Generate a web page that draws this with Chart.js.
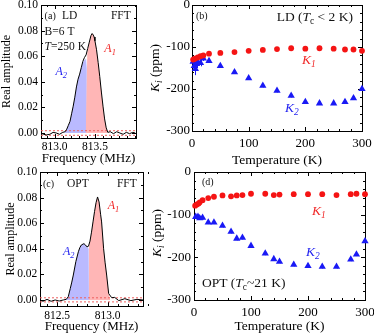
<!DOCTYPE html>
<html><head><meta charset="utf-8">
<script src="https://cdn.jsdelivr.net/npm/chart.js@4"></script>
<style>
html,body{margin:0;padding:0;background:#fff}
#wrap{position:relative;width:374px;height:333px;background:#fff}
#wrap canvas{position:absolute;left:0;top:0}
</style>
</head><body>
<div id="wrap">
<canvas id="ca" width="374" height="333"></canvas>
<canvas id="cb" width="374" height="333"></canvas>
<canvas id="cc" width="374" height="333"></canvas>
<canvas id="cd" width="374" height="333"></canvas>
</div>
<script>
// ---------- data: panel (a) LD spectrum ----------
const specFreqA = [812.83,812.86,812.90,812.94,812.98,813.02,813.06,813.10,813.13,813.15,813.17,813.19,813.21,813.23,813.25,813.27,813.29,813.31,813.33,813.35,813.37,813.39,813.41,813.43,813.45,813.465,813.48,813.49,813.50,813.52,813.54,813.56,813.58,813.60,813.62,813.64,813.66,813.69,813.73,813.77,813.81,813.85,813.89,813.93,813.97,814.0];
const specAmpA  = [0,-0.001,-0.0015,-0.001,0.0005,0,-0.001,0.0005,0.001,0.003,0.006,0.009,0.015,0.021,0.028,0.036,0.042,0.046,0.051,0.056,0.059,0.061,0.066,0.071,0.076,0.0777,0.0765,0.075,0.072,0.065,0.055,0.044,0.032,0.021,0.011,0.004,0.0005,0.001,-0.0005,0.001,0,-0.001,0.0005,-0.0005,0.0005,0];
const fitFreqA2a = [813.12,813.15,813.17,813.19,813.21,813.23,813.25,813.27,813.29,813.31,813.33,813.35,813.37,813.39,813.40,813.40];
const fitAmpA2a  = [0,0.003,0.006,0.009,0.015,0.021,0.028,0.036,0.042,0.046,0.051,0.055,0.057,0.058,0.050,0];
const fitFreqA1a = [813.385,813.395,813.405,813.43,813.45,813.465,813.48,813.49,813.50,813.52,813.54,813.56,813.58,813.60,813.62,813.64,813.66];
const fitAmpA1a  = [0,0.03,0.063,0.071,0.076,0.0777,0.0765,0.075,0.072,0.065,0.055,0.044,0.032,0.021,0.011,0.004,0];
const noiseLevelA = [0.0018,-0.0018];

// ---------- data: panel (c) OPT spectrum ----------
const specFreqC = [812.33,812.36,812.40,812.44,812.48,812.52,812.56,812.59,812.61,812.63,812.645,812.66,812.685,812.71,812.725,812.74,812.765,812.78,812.795,812.81,812.825,812.84,812.855,812.87,812.885,812.90,812.915,812.93,812.94,812.96,812.975,812.99,813.01,813.04,813.07,813.11,813.17,813.23,813.29,813.35];
const specAmpC  = [0,-0.001,0.0005,-0.001,0,-0.0008,0,0.0005,0.0026,0.009,0.014,0.0195,0.030,0.0377,0.041,0.043,0.044,0.043,0.0415,0.042,0.046,0.053,0.061,0.069,0.076,0.0805,0.0766,0.067,0.061,0.040,0.029,0.0195,0.005,0.0018,0.002,-0.0005,0.001,-0.0005,0.0005,0];
const fitFreqC2 = [812.585,812.61,812.63,812.645,812.66,812.685,812.71,812.725,812.74,812.765,812.78,812.795,812.812,812.815];
const fitAmpC2  = [0,0.0026,0.009,0.014,0.0195,0.030,0.0377,0.041,0.043,0.044,0.043,0.0415,0.040,0];
const fitFreqC1 = [812.812,812.815,812.825,812.84,812.855,812.87,812.885,812.90,812.915,812.93,812.94,812.96,812.975,812.99,813.01,813.025];
const fitAmpC1  = [0,0.042,0.046,0.053,0.061,0.069,0.076,0.0805,0.0766,0.067,0.061,0.040,0.029,0.0195,0.005,0];
const noiseLevelC = [0.0017,-0.0015];

// ---------- data: panel (b) LD Knight shift ----------
const tempK1LD  = [2,5,10,15,20,30,50,75,100,125,150,175,200,225,250,270,285,300];
const shiftK1LD = [-130,-128,-125,-122,-120,-116,-114,-112,-109,-107,-105,-103,-104,-103,-104,-106,-106,-109];
const tempK2LD  = [2,4,6,8,10,15,20,30,50,75,100,125,150,175,200,225,250,270,285,300];
const shiftK2LD = [-135,-145,-152,-140,-136,-138,-127,-133,-145,-160,-174,-192,-204,-216,-231,-234,-234,-231,-222,-200];
const errK2LD   = [10,12,15,10,8,8,6,5,5,4,4,4,4,4,4,4,4,4,4,4];

// ---------- data: panel (d) OPT Knight shift ----------
const tempK1OPT  = [2,5,8,10,15,25,35,50,65,75,85,100,125,140,150,175,200,225,250,275,285,300];
const shiftK1OPT = [-79,-76,-74,-71,-66,-61,-58,-55,-57,-55,-54,-51,-51,-54,-53,-52,-52,-52,-54,-52,-51,-52];
const tempK2OPT  = [3,7,10,15,25,35,50,65,75,85,100,125,140,150,175,200,225,250,275,285,300];
const shiftK2OPT = [-105,-105,-108,-107,-118,-118,-126,-140,-156,-154,-173,-191,-204,-210,-217,-220,-222,-222,-205,-193,-162];
const errK2OPT   = [4,4,4,4,4,4,4,4,4,4,4,4,4,4,4,4,4,4,4,4,4];

// ---------- tick labels ----------
const freqTicksA = [813.0, 813.5];
const freqTicksC = [812.5, 813.0];
const ampTicks   = [0, 0.02, 0.04, 0.06, 0.08, 0.10];
const tempTicks  = [0, 100, 200, 300];
const shiftTicks = [-300, -200, -100, 0];

// ---------- helpers ----------
const SERIF = '"Liberation Serif", "Times New Roman", serif';
const RED = '#f02828', BLUE = '#2323f0', TXT = '#111';
const xy = (xs, ys) => xs.map((x, i) => ({x, y: ys[i]}));

function drawRich(ctx, x, y, parts, size, align, color) {
  let w = 0;
  const m = parts.map(p => {
    const sz = p.s ? size * 0.7 : size;
    const f = (p.i ? 'italic ' : '') + sz + 'px ' + SERIF;
    ctx.font = f;
    const pw = ctx.measureText(p.t).width;
    w += pw;
    return {f, pw, dy: p.s ? size * 0.3 : 0};
  });
  let cx = align === 'right' ? x - w : (align === 'center' ? x - w / 2 : x);
  ctx.fillStyle = color;
  ctx.textAlign = 'left';
  ctx.textBaseline = 'middle';
  parts.forEach((p, k) => { ctx.font = m[k].f; ctx.fillText(p.t, cx, y + m[k].dy); cx += m[k].pw; });
}

const framePlugin = {
  id: 'frame',
  beforeDatasetsDraw(chart, args, o) {
    const {ctx, chartArea: a, scales: {x, y}} = chart;
    ctx.save();
    ctx.strokeStyle = '#000';
    ctx.lineWidth = 1;
    const tx = (v, len) => {
      const p = Math.round(x.getPixelForValue(v)) + 0.5;
      ctx.beginPath();
      ctx.moveTo(p, a.bottom); ctx.lineTo(p, a.bottom - len);
      ctx.moveTo(p, a.top); ctx.lineTo(p, a.top + len);
      ctx.stroke();
    };
    const ty = (v, len) => {
      const p = Math.round(y.getPixelForValue(v)) + 0.5;
      ctx.beginPath();
      ctx.moveTo(a.left, p); ctx.lineTo(a.left + len, p);
      ctx.moveTo(a.right, p); ctx.lineTo(a.right - len, p);
      ctx.stroke();
    };
    const nx = Math.round((x.max - o.xMinorStart) / o.xMinor);
    for (let k = 0; k <= nx; k++) tx(o.xMinorStart + k * o.xMinor, 2);
    const ny = Math.round((y.max - o.yMinorStart) / o.yMinor);
    for (let k = 0; k <= ny; k++) ty(o.yMinorStart + k * o.yMinor, 2);
    x.ticks.forEach(t => tx(t.value, 4));
    y.ticks.forEach(t => ty(t.value, 4));
    ctx.strokeRect(Math.round(a.left) + 0.5, Math.round(a.top) + 0.5, Math.round(a.right - a.left), Math.round(a.bottom - a.top));
    ctx.restore();
  }
};

const errPlugin = {
  id: 'errbars',
  beforeDatasetsDraw(chart) {
    const {ctx, scales: {y}} = chart;
    chart.data.datasets.forEach((ds, i) => {
      if (!ds.yErr) return;
      const meta = chart.getDatasetMeta(i);
      ctx.save();
      ctx.strokeStyle = ds.borderColor;
      ctx.lineWidth = 1;
      meta.data.forEach((el, k) => {
        const v = ds.data[k].y, e = ds.yErr[k];
        const px = Math.round(el.x) + 0.5;
        ctx.beginPath();
        ctx.moveTo(px, y.getPixelForValue(v + e));
        ctx.lineTo(px, y.getPixelForValue(v - e));
        ctx.stroke();
      });
      ctx.restore();
    });
  }
};

const notesPlugin = {
  id: 'notes',
  afterDatasetsDraw(chart, args, o) {
    const {ctx, chartArea: a, scales: {x, y}} = chart;
    ctx.save();
    (o.items || []).forEach(n => {
      drawRich(ctx, x.getPixelForValue(n.x), y.getPixelForValue(n.y), n.parts, n.size, n.align || 'left', n.color || TXT);
    });
    if (o.yTitle) {
      ctx.save();
      ctx.translate(a.left + o.yTitle.dx, (a.top + a.bottom) / 2 + (o.yTitle.dy || 0));
      ctx.rotate(-Math.PI / 2);
      drawRich(ctx, 0, 0, o.yTitle.parts, o.yTitle.size, 'center', '#000');
      ctx.restore();
    }
    ctx.restore();
  }
};

function build(id, c) {
  const zero = s => { s.paddingLeft = 0; s.paddingRight = 0; s.paddingTop = 0; s.paddingBottom = 0; };
  const el = document.getElementById(id);
  return new Chart(el, {
    type: 'scatter',
    data: {datasets: c.datasets},
    options: {
      responsive: false, animation: false, devicePixelRatio: 1,
      layout: {padding: {left: c.area.l - c.wy, top: c.area.t, right: 374 - c.area.r, bottom: 333 - c.area.b - c.hx}},
      plugins: {
        legend: {display: false}, tooltip: {enabled: false},
        frame: c.frame,
        notes: {items: c.notes, yTitle: c.yTitleRich}
      },
      scales: {
        x: {
          type: 'linear', position: 'bottom', min: c.x.min, max: c.x.max,
          afterBuildTicks: s => { s.ticks = c.x.ticks.map(v => ({value: v})); },
          afterFit: s => { s.height = c.hx; zero(s); },
          grid: {display: false, drawTicks: false}, border: {display: false},
          ticks: {autoSkip: false, maxRotation: 0, padding: c.x.pad, color: '#000',
                  font: {family: SERIF, size: c.x.size, lineHeight: 1}, callback: v => c.x.fmt(v)},
          title: {display: true, text: c.x.title, color: '#000',
                  font: {family: SERIF, size: c.x.tsize, lineHeight: 1}, padding: {top: 0, bottom: 0}}
        },
        y: {
          type: 'linear', position: 'left', min: c.y.min, max: c.y.max,
          afterBuildTicks: s => { s.ticks = c.y.ticks.map(v => ({value: v})); },
          afterFit: s => { s.width = c.wy; zero(s); },
          grid: {display: false, drawTicks: false}, border: {display: false},
          ticks: {autoSkip: false, padding: c.y.pad, color: '#000',
                  font: {family: SERIF, size: c.y.size, lineHeight: 1}, callback: v => c.y.fmt(v)},
          title: c.y.title ? {display: true, text: c.y.title, color: '#000',
                  font: {family: SERIF, size: c.y.tsize, lineHeight: 1}, padding: {top: c.y.tpad, bottom: 0}}
                : {display: false}
        }
      }
    },
    plugins: [framePlugin, errPlugin, notesPlugin]
  });
}

function spectrumSets(fx, fy, f2x, f2y, f1x, f1y, noise, xmin, xmax) {
  const line = (data, extra) => Object.assign({type: 'line', data, pointRadius: 0, tension: 0, showLine: true}, extra);
  return [
    line(xy(fx, fy), {borderColor: '#000', borderWidth: 1, fill: false, order: 0}),
    line([{x: xmin, y: noise[0]}, {x: xmax, y: noise[0]}], {borderColor: 'rgba(238,95,95,1)', borderWidth: 1, borderDash: [2, 2], fill: false, order: 1}),
    line([{x: xmin, y: noise[1]}, {x: xmax, y: noise[1]}], {borderColor: 'rgba(238,95,95,1)', borderWidth: 1, borderDash: [2, 2], fill: false, order: 1}),
    line(xy(f1x, f1y), {borderWidth: 0, borderColor: 'rgba(0,0,0,0)', backgroundColor: 'rgb(255,182,182)', fill: 'origin', order: 2}),
    line(xy(f2x, f2y), {borderWidth: 0, borderColor: 'rgba(0,0,0,0)', backgroundColor: 'rgb(186,186,255)', fill: 'origin', order: 3})
  ];
}

function shiftSets(t1, k1, t2, k2, e2) {
  return [
    {data: xy(t1, k1), pointStyle: 'circle', pointRadius: 2.9, backgroundColor: 'rgb(245,20,20)', borderColor: 'rgb(245,20,20)', borderWidth: 0, clip: false, order: 0},
    {data: xy(t2, k2), yErr: e2, pointStyle: 'triangle', pointRadius: 4.2, backgroundColor: 'rgb(25,25,245)', borderColor: 'rgb(25,25,245)', borderWidth: 0, clip: false, order: 1}
  ];
}

const sub = (base, s, italic) => [{t: base, i: italic}, {t: s, i: italic, s: 1}];

// ---------- panel (a) ----------
build('ca', {
  area: {l: 41, t: 5, r: 136, b: 138}, wy: 41, hx: 27,
  x: {min: 812.83, max: 814.01, ticks: freqTicksA, fmt: v => v.toFixed(1), pad: 3.5, size: 11.5, title: 'Frequency (MHz)', tsize: 13},
  y: {min: -0.0039, max: 0.10, ticks: ampTicks, fmt: v => v.toFixed(2), pad: 3, size: 11.5, title: 'Real amplitude', tsize: 12, tpad: 1},
  frame: {xMinorStart: 812.9, xMinor: 0.1, yMinorStart: 0, yMinor: 0.01},
  datasets: spectrumSets(specFreqA, specAmpA, fitFreqA2a, fitAmpA2a, fitFreqA1a, fitAmpA1a, noiseLevelA, 812.83, 814.01),
  notes: [
    {x: 812.875, y: 0.0915, parts: [{t: '(a)'}], size: 10},
    {x: 813.09, y: 0.0915, parts: [{t: 'LD'}], size: 11.5},
    {x: 813.945, y: 0.0915, parts: [{t: 'FFT'}], size: 11.5, align: 'right'},
    {x: 812.875, y: 0.0788, parts: [{t: 'B=6 T'}], size: 11.5},
    {x: 812.875, y: 0.0675, parts: [{t: 'T', i: 1}, {t: '=250 K'}], size: 11.5},
    {x: 813.617, y: 0.0656, parts: sub('A', '1', 1), size: 12, color: RED},
    {x: 813.01, y: 0.0477, parts: sub('A', '2', 1), size: 12, color: BLUE}
  ]
});

// ---------- panel (b) ----------
build('cb', {
  area: {l: 192, t: 5, r: 362, b: 131}, wy: 40, hx: 36,
  x: {min: 0, max: 300, ticks: tempTicks, fmt: v => String(v), pad: 6.5, size: 13, title: 'Temperature (K)', tsize: 13.5},
  y: {min: -300, max: 0, ticks: shiftTicks, fmt: v => String(v), pad: 2, size: 13},
  frame: {xMinorStart: 0, xMinor: 20, yMinorStart: -300, yMinor: 20},
  datasets: shiftSets(tempK1LD, shiftK1LD, tempK2LD, shiftK2LD, errK2LD),
  yTitleRich: {dx: -37, dy: 0, size: 13.5, parts: [{t: 'K', i: 1}, {t: 'i', i: 1, s: 1}, {t: ' (ppm)'}]},
  notes: [
    {x: 7, y: -26, parts: [{t: '(b)'}], size: 10},
    {x: 284, y: -30, parts: [{t: 'LD ('}, {t: 'T', i: 1}, {t: 'c', s: 1}, {t: ' < 2 K)'}], size: 13.5, align: 'right'},
    {x: 194, y: -131, parts: sub('K', '1', 1), size: 13.5, color: RED},
    {x: 164, y: -247, parts: sub('K', '2', 1), size: 13.5, color: BLUE}
  ]
});

// ---------- panel (c) ----------
build('cc', {
  area: {l: 40, t: 172, r: 143, b: 306}, wy: 40, hx: 27,
  x: {min: 812.33, max: 813.35, ticks: freqTicksC, fmt: v => v.toFixed(1), pad: 4.5, size: 11.5, title: 'Frequency (MHz)', tsize: 13},
  y: {min: -0.0047, max: 0.10, ticks: ampTicks, fmt: v => v.toFixed(2), pad: 2.7, size: 11.5, title: 'Real amplitude', tsize: 12, tpad: 5},
  frame: {xMinorStart: 812.4, xMinor: 0.1, yMinorStart: 0, yMinor: 0.01},
  datasets: spectrumSets(specFreqC, specAmpC, fitFreqC2, fitAmpC2, fitFreqC1, fitAmpC1, noiseLevelC, 812.33, 813.35),
  notes: [
    {x: 812.36, y: 0.0904, parts: [{t: '(c)'}], size: 10},
    {x: 812.597, y: 0.0904, parts: [{t: 'OPT'}], size: 11.5},
    {x: 813.288, y: 0.0904, parts: [{t: 'FFT'}], size: 11.5, align: 'right'},
    {x: 813.0, y: 0.0733, parts: sub('A', '1', 1), size: 12, color: RED},
    {x: 812.557, y: 0.0374, parts: sub('A', '2', 1), size: 12, color: BLUE}
  ]
});

// ---------- panel (d) ----------
build('cd', {
  area: {l: 194, t: 172, r: 365, b: 300}, wy: 40, hx: 33,
  x: {min: 0, max: 300, ticks: tempTicks, fmt: v => String(v), pad: 6, size: 13, title: 'Temperature (K)', tsize: 13.5},
  y: {min: -300, max: 0, ticks: shiftTicks, fmt: v => String(v), pad: 3, size: 13},
  frame: {xMinorStart: 0, xMinor: 20, yMinorStart: -300, yMinor: 20},
  datasets: shiftSets(tempK1OPT, shiftK1OPT, tempK2OPT, shiftK2OPT, errK2OPT),
  yTitleRich: {dx: -36.5, dy: -3, size: 13.5, parts: [{t: 'K', i: 1}, {t: 'i', i: 1, s: 1}, {t: ' (ppm)'}]},
  notes: [
    {x: 14, y: -24, parts: [{t: '(d)'}], size: 10},
    {x: 207, y: -93.5, parts: sub('K', '1', 1), size: 13.5, color: RED},
    {x: 196.5, y: -188, parts: sub('K', '2', 1), size: 13.5, color: BLUE},
    {x: 14, y: -261, parts: [{t: 'OPT ('}, {t: 'T', i: 1}, {t: 'c', s: 1}, {t: '~21 K)'}], size: 13.5}
  ]
});
</script>
</body></html>
